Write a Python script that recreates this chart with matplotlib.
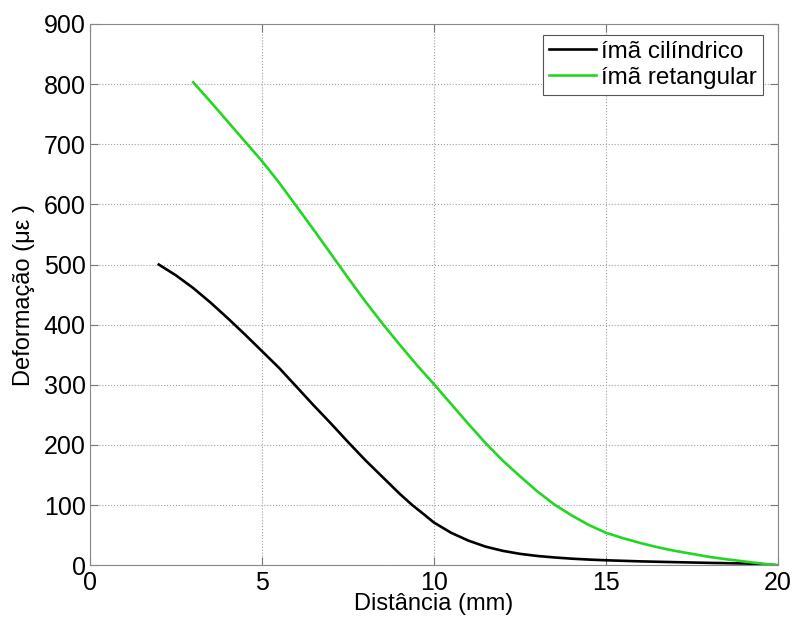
import numpy as np
import matplotlib.pyplot as plt

plt.rcParams['font.family'] = ['Liberation Sans', 'DejaVu Sans']

# ímã cilíndrico
x_cil = [2.0, 2.5, 3.0, 3.5, 4.0, 4.5, 5.0, 5.5, 6.0, 6.5, 7.0, 7.5, 8.0, 8.5, 9.0,
         9.37, 9.7, 10.0, 10.5, 11.0, 11.5, 12.0, 12.5, 13.0, 13.5, 14.0, 14.5, 15.0,
         16.0, 17.0, 18.0, 19.0, 19.5, 20.0]
y_cil = [500, 482, 461, 437, 411, 384, 356, 328, 297, 266, 236, 205, 175, 147, 119,
         100, 85, 71, 54, 41, 31, 24, 19, 15.5, 13, 11, 9.5, 8.3,
         6.5, 5.2, 4, 3, 2, 0]

# ímã retangular
x_ret = [3.0, 3.5, 4.0, 4.5, 5.0, 5.5, 6.0, 6.5, 7.0, 7.5, 8.0, 8.5, 9.0, 9.5, 10.0,
         10.5, 11.0, 11.5, 12.0, 12.5, 13.0, 13.5, 14.0, 14.5, 15.0, 15.5, 16.0, 16.5,
         17.0, 17.5, 18.0, 18.5, 19.0, 19.5, 20.0]
y_ret = [803, 771, 738, 705, 672, 636, 597, 558, 518, 478, 439, 402, 367, 333, 301,
         268, 235, 203, 174, 148, 123, 101, 83, 67, 54, 45, 37, 30,
         24, 19, 14, 10, 6.5, 3, 0]

fig = plt.figure(figsize=(7.95, 6.26), dpi=100)
ax = fig.add_axes([0.1132, 0.0970, 0.8654, 0.8647])

ax.plot(x_cil, y_cil, color='black', lw=1.9, label='ímã cilíndrico')
ax.plot(x_ret, y_ret, color='#22d622', lw=1.9, label='ímã retangular')

ax.set_xlim(0, 20)
ax.set_ylim(0, 900)
ax.set_xticks([0, 5, 10, 15, 20])
ax.set_yticks(np.arange(0, 901, 100))
ax.grid(True, linestyle=':', color='#a0a0a0', lw=0.8)
ax.tick_params(direction='in', top=True, right=True, labelsize=18, length=6,
               color='#777777', pad=3)
ax.tick_params(axis='x', pad=4)
for s in ax.spines.values():
    s.set_color('#888888')

ax.set_xlabel('Distância (mm)', fontsize=17, labelpad=-1)
ax.set_ylabel('Deformação (με )', fontsize=17, labelpad=6)

leg = ax.legend(loc='upper right', bbox_to_anchor=(0.978, 0.980), borderaxespad=0,
                fontsize=17.5, fancybox=False, framealpha=1, edgecolor='#555555',
                handlelength=1.95, handletextpad=0.2, borderpad=0.25, labelspacing=0.15)
leg.get_frame().set_linewidth(0.8)

plt.savefig('out.png')
